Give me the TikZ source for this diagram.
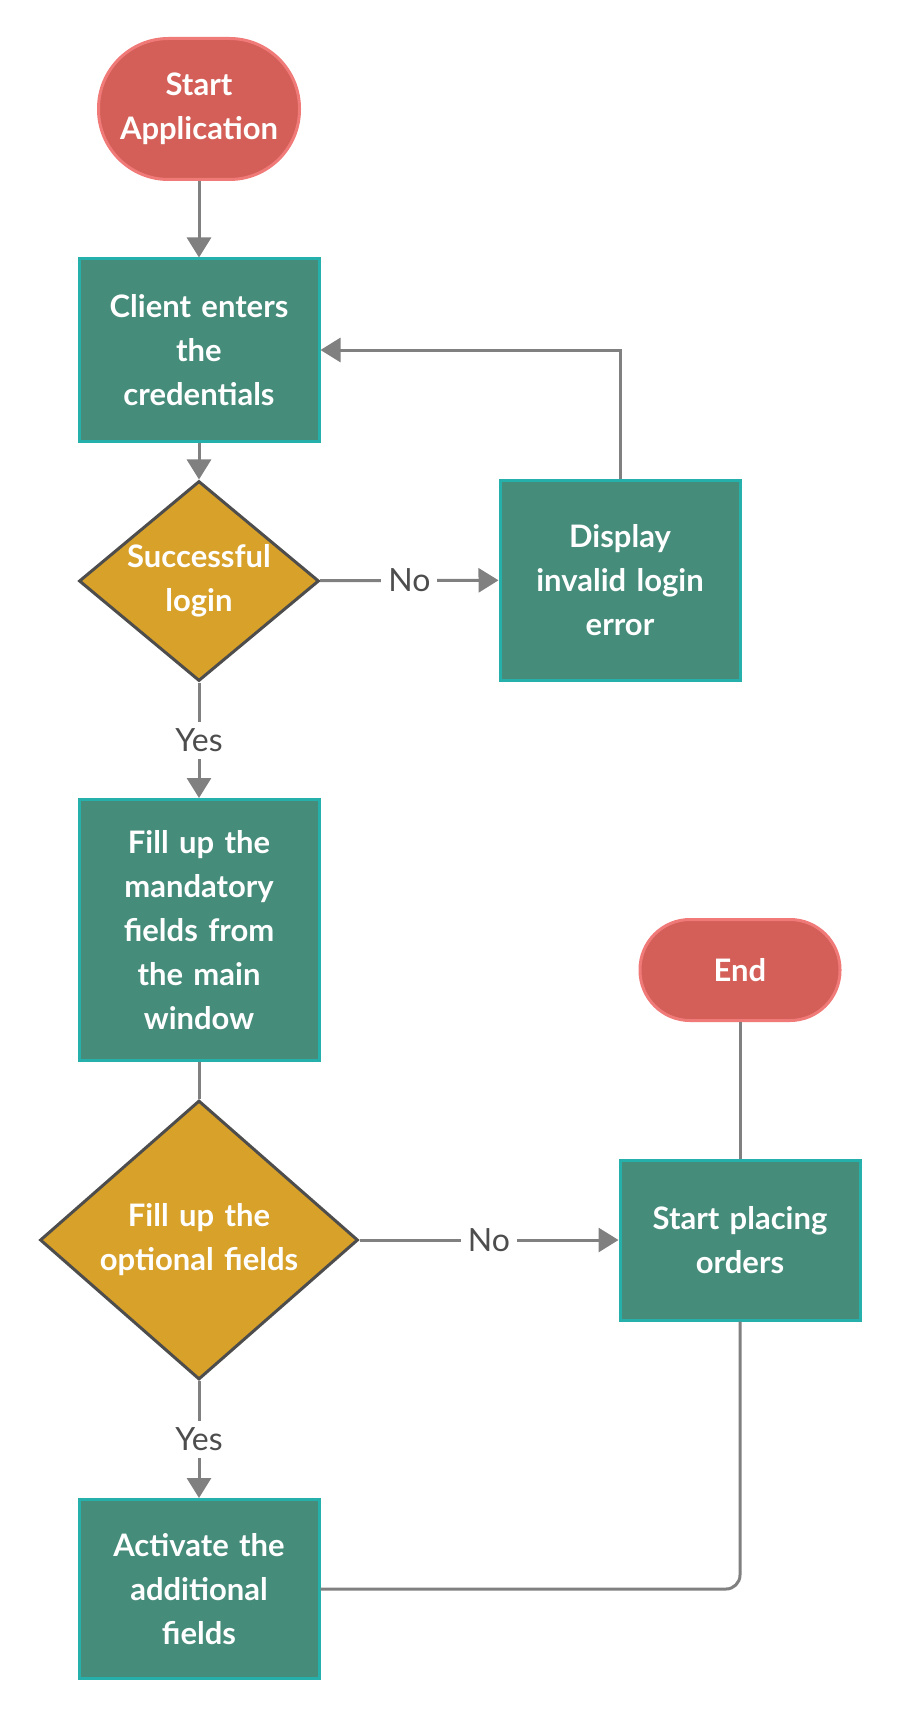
\documentclass[tikz,border=0pt]{standalone}
\usepackage{fontspec}
\setmainfont{Lato}
\usetikzlibrary{arrows.meta,shapes.geometric}

\definecolor{termfill}{HTML}{D35F58}
\definecolor{termline}{HTML}{F07A78}
\definecolor{boxfill}{HTML}{458C7A}
\definecolor{boxline}{HTML}{25B0AC}
\definecolor{decfill}{HTML}{D8A12A}
\definecolor{decline}{HTML}{4D4D4D}
\definecolor{flowgray}{HTML}{808080}

\tikzset{
  terminal/.style={draw=termline, fill=termfill, line width=3pt, text=white,
    font=\fontsize{31}{44}\selectfont\bfseries, align=center, inner sep=0pt},
  stepbox/.style={draw=boxline, fill=boxfill, line width=3pt, text=white,
    font=\fontsize{31}{44}\selectfont\bfseries, align=center, text width=224pt,
    minimum width=240pt, inner sep=0pt},
  decision/.style={diamond, draw=decline, fill=decfill, line width=3pt, text=white,
    font=\fontsize{31}{44}\selectfont\bfseries, align=center, inner sep=-40pt},
  flow/.style={draw=flowgray, line width=3pt, -{Triangle[width=24pt,length=20pt]}},
  plain/.style={draw=flowgray, line width=3pt},
  lbl/.style={fill=white, text=decline, font=\fontsize{32}{36}\selectfont, inner sep=7pt}
}

\begin{document}
\begin{tikzpicture}[x=1pt,y=-1pt]
\useasboundingbox (0,0) rectangle (900,1720);

% nodes
\node[terminal, rounded corners=70pt, minimum width=201pt, minimum height=141pt] (start) at (199,109) {Start\\Application};
\node[stepbox, minimum height=182pt] (client) at (199,350) {Client enters\\the\\credentials};
\node[decision, minimum width=240pt, minimum height=200pt, text width=160pt] (login) at (199,581) {Successful\\login};
\node[stepbox, minimum height=200pt] (showerr) at (620,580) {Display\\invalid login\\error};
\node[stepbox, minimum height=261pt] (mandatory) at (199,930) {Fill up the\\mandatory\\fields from\\the main\\window};
\node[decision, minimum width=318pt, minimum height=279pt, text width=220pt] (optional) at (199,1240) {Fill up the\\optional fields};
\node[stepbox, minimum height=160pt] (orders) at (740,1240) {Start placing\\orders};
\node[terminal, rounded corners=50pt, minimum width=200pt, minimum height=101pt] (stop) at (740,970) {End};
\node[stepbox, minimum height=179pt] (activate) at (199,1589) {Activate the\\additional\\fields};

% connectors
\draw[flow] (start) -- (client);
\draw[flow] (client) -- (login);
\draw[flow] (login) -- node[lbl]{No} (showerr);
\draw[flow] (showerr.north) |- (client.east);
\draw[flow] (login) -- node[lbl]{Yes} (mandatory);
\draw[plain] (mandatory) -- (optional);
\draw[flow] (optional) -- node[lbl]{No} (orders);
\draw[flow] (optional) -- node[lbl]{Yes} (activate);
\draw[plain, rounded corners=14pt] (activate.east) -| (orders.south);
\draw[plain] (stop) -- (orders);

\end{tikzpicture}
\end{document}
